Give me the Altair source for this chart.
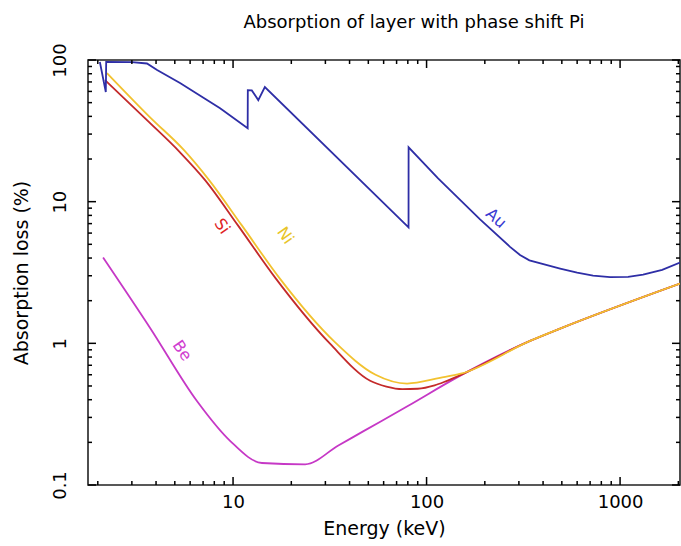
import math
import altair as alt
import pandas as pd

# ---- data (energy in keV, absorption loss in %) ----
au_e = [2.05, 2.2, 2.21, 3.0, 3.59, 4.05, 5.32, 8.57, 11.9, 11.92, 12.5, 13.5, 14.6,
        80.7, 80.75, 114.7, 189, 270, 304, 340, 490, 600, 725, 888, 1100, 1315, 1650, 2040]
au_v = [96.8, 59.4, 97, 96.5, 94.5, 84.9, 68.8, 45.7, 33.0, 61.3, 61, 52.1, 64.4,
        6.58, 24.2, 14.6, 7.5, 4.8, 4.2, 3.85, 3.37, 3.15, 3.01, 2.93, 2.95, 3.05, 3.3, 3.72]

si_e = [2.18, 3.59, 5.32, 7.17, 10.6, 16.5, 31.7, 51.1, 62, 75, 90, 110, 127.6,
        342.7, 489.8, 2040]
si_v = [72.2, 37.6, 22.3, 14.2, 6.80, 2.91, 0.994, 0.544, 0.495, 0.475, 0.478,
        0.505, 0.544, 1.04, 1.27, 2.64]

ni_e = [2.23, 3.76, 5.58, 7.52, 11.1, 17.3, 33.6, 54.5, 79.3, 117.4, 150,
        342.7, 489.8, 2040]
ni_v = [80.9, 38.9, 23.1, 14.2, 6.8, 2.91, 1.02, 0.60, 0.52, 0.57, 0.61,
        1.04, 1.27, 2.64]

be_e = [2.13, 3.72, 6.52, 9.65, 14.1, 23.6, 35, 47.0, 80, 143.8, 342.7, 489.8, 2040]
be_v = [4.04, 1.29, 0.39, 0.205, 0.143, 0.14, 0.19, 0.239, 0.361, 0.575, 1.04, 1.27, 2.64]

label_text = ["Au", "Si", "Ni", "Be"]
label_e = [228.6, 8.77, 18.6, 5.45]
label_v = [7.62, 6.69, 5.77, 0.886]

x_major = [10, 100, 1000]
y_major = [0.1, 1, 10, 100]

title_text = ["Absorption of layer with phase shift Pi"]

# ---- styling ----
materials = ["Be", "Si", "Ni", "Au"]
line_colors = {"Be": "#c638c6", "Si": "#c42a2a", "Ni": "#f2c230", "Au": "#2e2ea6"}
text_colors = {"Be": "#d040d0", "Si": "#e02424", "Ni": "#e8c428", "Au": "#3a3ad2"}
text_angles = {"Au": 42, "Si": 55, "Ni": 55, "Be": 55}
FONT = "DejaVu Sans"
W, H = 592, 425
X_DOM = [1.78, 2040]
Y_DOM = [0.1, 100]
MAJOR_LEN, MINOR_LEN = 8, 4

series = {"Be": (be_e, be_v), "Si": (si_e, si_v), "Ni": (ni_e, ni_v), "Au": (au_e, au_v)}
rows = []
for m in materials:
    es, vs = series[m]
    for i, (e, v) in enumerate(zip(es, vs)):
        rows.append({"material": m, "energy": e, "loss": v, "order": i})
df = pd.DataFrame(rows)

lab = pd.DataFrame({
    "text": label_text, "energy": label_e, "loss": label_v,
    "color": [text_colors[t] for t in label_text],
    "angle": [text_angles[t] for t in label_text],
})

# inward tick marks of the log axes, drawn as short segments through the scales
x_ticks = [m * 10 ** k for k in range(0, 4) for m in range(1, 10) if X_DOM[0] <= m * 10 ** k <= X_DOM[1]]
y_ticks = [round(m * 10 ** k, 3) for k in range(-1, 3) for m in range(1, 10) if m * 10 ** k <= Y_DOM[1]]
x_dec = W / math.log10(X_DOM[1] / X_DOM[0])
y_dec = H / math.log10(Y_DOM[1] / Y_DOM[0])


def is_major(v):
    return abs(math.log10(v) - round(math.log10(v))) < 1e-6


seg = []
sid = 0
for v in x_ticks:
    f = 10 ** ((MAJOR_LEN if is_major(v) else MINOR_LEN) / y_dec)
    for a, b in [(Y_DOM[0], Y_DOM[0] * f), (Y_DOM[1], Y_DOM[1] / f)]:
        seg += [{"id": sid, "energy": v, "loss": a, "o": 0}, {"id": sid, "energy": v, "loss": b, "o": 1}]
        sid += 1
for v in y_ticks:
    f = 10 ** ((MAJOR_LEN if is_major(v) else MINOR_LEN) / x_dec)
    for a, b in [(X_DOM[0], X_DOM[0] * f), (X_DOM[1], X_DOM[1] / f)]:
        seg += [{"id": sid, "energy": a, "loss": v, "o": 0}, {"id": sid, "energy": b, "loss": v, "o": 1}]
        sid += 1
ticks_df = pd.DataFrame(seg)

xs = alt.Scale(type="log", domain=X_DOM, nice=False)
ys = alt.Scale(type="log", domain=Y_DOM, nice=False)
cs = alt.Scale(domain=materials, range=[line_colors[m] for m in materials])

x_lab_axis = alt.Axis(orient="bottom", values=x_major, format="d", ticks=False, domain=False,
                      labelFont=FONT, labelFontSize=18, labelPadding=8, labelColor="black",
                      titleFont=FONT, titleFontSize=19, titleFontWeight="normal",
                      titlePadding=8, titleColor="black")
y_lab_axis = alt.Axis(orient="left", values=y_major, format="~g", ticks=False, domain=False,
                      labelAngle=270, labelAlign="center", labelBaseline="bottom",
                      labelFont=FONT, labelFontSize=18, labelPadding=19, labelColor="black",
                      titleFont=FONT, titleFontSize=19, titleFontWeight="normal",
                      titlePadding=20, titleColor="black")

smooth = alt.Chart(df).transform_filter(alt.datum.material != "Au").mark_line(
    strokeWidth=1.8, clip=True, interpolate="monotone").encode(
    x=alt.X("energy:Q", scale=xs, axis=x_lab_axis, title="Energy (keV)"),
    y=alt.Y("loss:Q", scale=ys, axis=y_lab_axis, title="Absorption loss (%)"),
    color=alt.Color("material:N", scale=cs, legend=None),
    detail="material:N",
    order="order:Q",
)

gold = alt.Chart(df).transform_filter(alt.datum.material == "Au").mark_line(
    strokeWidth=1.8, clip=True).encode(
    x=alt.X("energy:Q", scale=xs, axis=None),
    y=alt.Y("loss:Q", scale=ys, axis=None),
    color=alt.Color("material:N", scale=cs, legend=None),
    order="order:Q",
)

ticks = alt.Chart(ticks_df).mark_line(color="black", strokeWidth=1.5).encode(
    x=alt.X("energy:Q", scale=xs, axis=None),
    y=alt.Y("loss:Q", scale=ys, axis=None),
    detail="id:N",
    order="o:Q",
)

texts = alt.Chart(lab).mark_text(font=FONT, fontSize=16).encode(
    x=alt.X("energy:Q", scale=xs, axis=None),
    y=alt.Y("loss:Q", scale=ys, axis=None),
    text="text:N",
    color=alt.Color("color:N", scale=None),
    angle=alt.Angle("angle:Q", scale=None),
)

title = alt.Chart(pd.DataFrame({"t": title_text})).mark_text(
    font=FONT, fontSize=18, baseline="alphabetic", align="center", color="black").encode(
    text="t:N", x=alt.value(W / 2 + 30), y=alt.value(-32))

chart = alt.layer(smooth, gold, ticks, texts, title).resolve_axis(
    x="independent", y="independent"
).properties(
    width=W, height=H,
    autosize=alt.AutoSizeParams(type="none"),
    padding={"left": 88, "top": 60, "right": 1, "bottom": 61},
).configure_view(stroke="#222222", strokeWidth=1.6).configure_axis(grid=False)

chart.save("out.html", embed_options={"renderer": "svg", "actions": False})
